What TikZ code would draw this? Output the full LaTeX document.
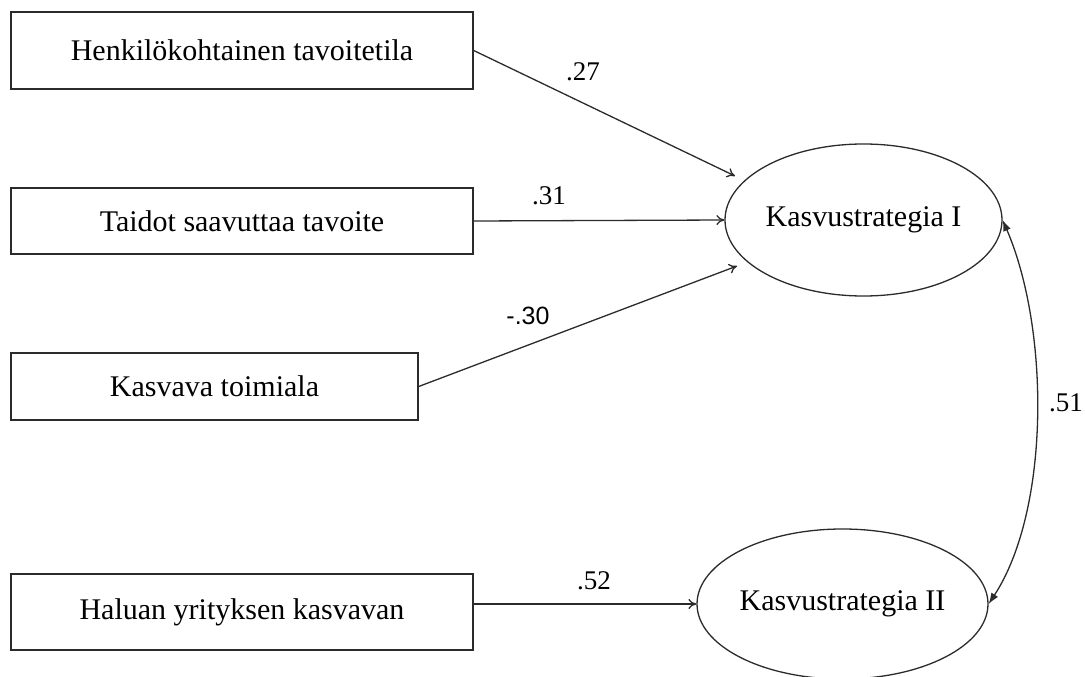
\documentclass[tikz,border=0pt]{standalone}
\usepackage{fontspec}
\setmainfont{Liberation Serif}
\newfontfamily\lblsans{Liberation Sans}
\usetikzlibrary{shapes.geometric,arrows.meta}
\definecolor{ink}{HTML}{2B2B2B}
\begin{document}
\begin{tikzpicture}[x=1pt,y=-1pt,
  varbox/.style={draw=ink,line width=1.4pt,rectangle,inner sep=0pt,
    minimum width=462pt,font=\fontsize{30}{36}\selectfont},
  latent/.style={draw=ink,line width=1.3pt,ellipse,inner sep=0pt,
    font=\fontsize{30}{36}\selectfont},
  path/.style={draw=ink,line width=1.3pt,-{To[length=8pt,width=10pt]}},
  cov/.style={draw=ink,line width=1.3pt,{Latex[length=11pt,width=8pt]}-{Latex[length=11pt,width=8pt]}},
  coef/.style={font=\fontsize{27}{30}\selectfont},
  coefsans/.style={font=\lblsans\fontsize{25}{28}\selectfont}]
\useasboundingbox (0,0) rectangle (1085,677);

% observed variables
\node[varbox,minimum height=77pt] (b1) at (242,50.5) {Henkilökohtainen tavoitetila};
\node[varbox,minimum height=66pt] (b2) at (242,221) {Taidot saavuttaa tavoite};
\node[varbox,minimum height=67pt,minimum width=407pt] (b3) at (214.5,386.5) {Kasvava toimiala};
\node[varbox,minimum height=76pt] (b4) at (242,612) {Haluan yrityksen kasvavan};

% latent factors
\node[latent,minimum width=277pt,minimum height=152pt] (e1) at (863.5,220) {Kasvustrategia I};
\node[latent,minimum width=275pt,minimum height=150pt] (e2) at (842.5,604) {Kasvustrategia II};

% arrow tips just outside the first factor
\coordinate (a1) at (735,176);
\coordinate (a3) at (737,266);

% regression paths
\draw[path] (b1.east) -- (a1);
\draw[path] (b2.east) -- (e1.west);
\draw[path] (b3.east) -- (a3);
\draw[path] (b4.east |- e2.west) -- (e2.west);

% factor covariance
\draw[cov] (e1.east) .. controls (1050,330) and (1050,510) .. (e2.east);

% coefficients
\node[coef] (c1) at (583,72) {.27};
\node[coef] (c2) at (549,196) {.31};
\node[coefsans] (c3) at (528,316) {-.30};
\node[coef] (c4) at (594,581) {.52};
\node[coef] (c5) at (1066,403) {.51};
\end{tikzpicture}
\end{document}
